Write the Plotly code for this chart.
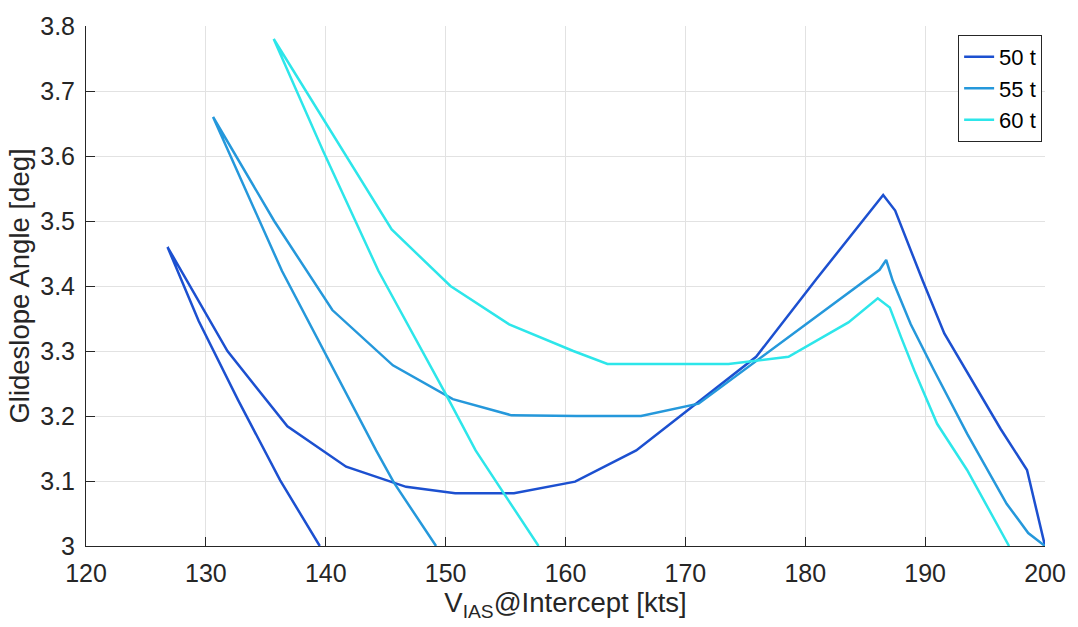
import plotly.graph_objects as go

# ---- data ----
series_names = ["50 t", "55 t", "60 t"]

x_50t = [139.5, 136.2, 132.7, 129.4, 126.8, 131.8, 136.8, 141.7, 146.7, 150.8, 155.7,
         160.8, 165.9, 170.9, 175.9, 180.9, 186.5, 187.5, 189.8, 191.6, 194.0, 196.3,
         198.5, 200.0]
y_50t = [3.000, 3.101, 3.224, 3.346, 3.460, 3.300, 3.184, 3.122, 3.091, 3.081, 3.081,
         3.099, 3.147, 3.219, 3.291, 3.410, 3.540, 3.516, 3.408, 3.327, 3.252, 3.180,
         3.117, 3.000]

x_55t = [149.2, 145.7, 144.2, 137.7, 136.35, 130.6, 135.7, 140.55, 145.6, 150.6, 155.5,
         160.9, 166.3, 171.1, 186.2, 186.75, 187.3, 188.8, 190.75, 193.5, 196.8, 198.6,
         200.0]
y_55t = [3.000, 3.097, 3.147, 3.374, 3.423, 3.660, 3.500, 3.363, 3.278, 3.226, 3.201,
         3.200, 3.200, 3.219, 3.425, 3.440, 3.408, 3.341, 3.270, 3.173, 3.065, 3.020,
         3.000]

x_60t = [157.75, 152.5, 150.0, 144.4, 139.8, 135.66, 145.5, 150.4, 155.3, 160.65, 163.5,
         173.6, 178.6, 183.6, 186.05, 187.05, 188.0, 189.1, 191.0, 193.5, 197.0]
y_60t = [3.000, 3.147, 3.234, 3.423, 3.607, 3.780, 3.487, 3.400, 3.341, 3.300, 3.280,
         3.280, 3.291, 3.344, 3.381, 3.367, 3.321, 3.270, 3.188, 3.117, 3.000]

x_ticks = [120, 130, 140, 150, 160, 170, 180, 190, 200]
y_ticks = [3.0, 3.1, 3.2, 3.3, 3.4, 3.5, 3.6, 3.7, 3.8]
y_tick_labels = ["3", "3.1", "3.2", "3.3", "3.4", "3.5", "3.6", "3.7", "3.8"]

# ---- styles ----
colors = ["#1c50d0", "#2598db", "#2de6ea"]
FONT = "Liberation Sans, Arial, Helvetica, sans-serif"
AX = "#262626"
GRID = "#e2e2e2"

fig = go.Figure()
for name, xs, ys, c in zip(series_names, [x_50t, x_55t, x_60t], [y_50t, y_55t, y_60t], colors):
    fig.add_trace(go.Scatter(x=xs, y=ys, mode="lines", name=name,
                             line=dict(color=c, width=2.5)))

fig.update_layout(
    width=1078, height=627,
    margin=dict(l=86, r=26, t=24, b=81),
    paper_bgcolor="white", plot_bgcolor="white",
    font=dict(family=FONT, color=AX, size=25),
    showlegend=True,
    legend=dict(x=0.997, xanchor="right", y=0.983, yanchor="top",
                bgcolor="white", bordercolor="#262626", borderwidth=1,
                font=dict(size=22, color="#000000"),
                tracegroupgap=0, itemwidth=30),
)

fig.update_xaxes(
    range=[120, 200], tickvals=x_ticks, ticktext=[str(v) for v in x_ticks],
    showgrid=True, gridcolor=GRID, gridwidth=1,
    showline=True, linecolor=AX, linewidth=1,
    ticks="inside", ticklen=9, tickcolor=AX, tickwidth=1,
    ticklabelstandoff=5,
    tickfont=dict(size=25, color=AX), zeroline=False,
    title=dict(text="V<sub>IAS</sub>@Intercept [kts]", font=dict(size=27.5, color=AX), standoff=2),
)
fig.update_yaxes(
    range=[3.0, 3.8], tickvals=y_ticks, ticktext=y_tick_labels,
    showgrid=True, gridcolor=GRID, gridwidth=1,
    showline=True, linecolor=AX, linewidth=1,
    ticks="inside", ticklen=9, tickcolor=AX, tickwidth=1,
    ticklabelstandoff=5,
    tickfont=dict(size=25, color=AX), zeroline=False,
    title=dict(text="Glideslope Angle [deg]", font=dict(size=27.5, color=AX), standoff=2),
)

fig.write_html("out.html")
